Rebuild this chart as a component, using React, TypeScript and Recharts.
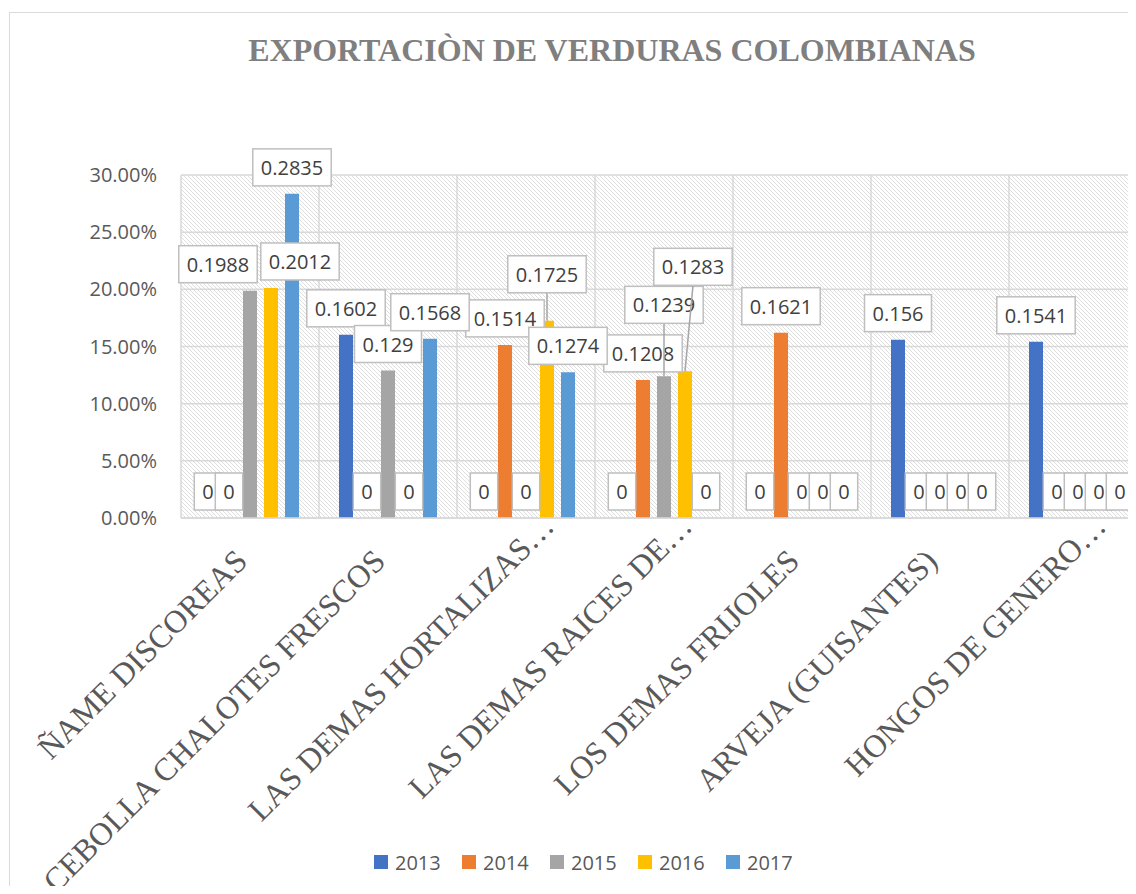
import React from 'react';
import { BarChart, Bar, XAxis, YAxis, CartesianGrid, Legend, LabelList } from 'recharts';

const categories = [
  'ÑAME DISCOREAS',
  'CEBOLLA CHALOTES FRESCOS',
  'LAS DEMAS HORTALIZAS…',
  'LAS DEMAS RAICES DE…',
  'LOS DEMAS FRIJOLES',
  'ARVEJA (GUISANTES)',
  'HONGOS DE GENERO…',
];

const years = ['2013', '2014', '2015', '2016', '2017'];

const values2013 = [0, 0.1602, 0, 0, 0, 0.156, 0.1541];
const values2014 = [0, 0, 0.1514, 0.1208, 0.1621, 0, 0];
const values2015 = [0.1988, 0.129, 0, 0.1239, 0, 0, 0];
const values2016 = [0.2012, 0, 0.1725, 0.1283, 0, 0, 0];
const values2017 = [0.2835, 0.1568, 0.1274, 0, 0, 0, 0];

const yTicks = [0, 0.05, 0.1, 0.15, 0.2, 0.25, 0.3];

const colors = ['#4472C4', '#ED7D31', '#A5A5A5', '#FFC000', '#5B9BD5'];

const seriesValues = [values2013, values2014, values2015, values2016, values2017];

const data = categories.map((name, i) => {
  const row: Record<string, string | number> = { name };
  years.forEach((y, s) => {
    row[y] = seriesValues[s][i];
  });
  return row;
});

// labels that Excel moved away from the default spot (year-categoryIndex)
const labelShift: Record<string, { dx: number; dy: number }> = {
  '2015-0': { dx: -32, dy: 0 },
  '2016-0': { dx: 29, dy: 0 },
  '2016-2': { dx: 0, dy: -20 },
  '2015-3': { dx: 0, dy: -45 },
  '2016-3': { dx: 8, dy: -78 },
};

const LABEL_FONT = '20px "Open Sans"';
let ctx: CanvasRenderingContext2D | null = null;
const measure = (t: string) => {
  if (!ctx) ctx = document.createElement('canvas').getContext('2d');
  if (!ctx) return t.length * 11;
  ctx.font = LABEL_FONT;
  return ctx.measureText(t).width;
};

const makeLabel = (year: string) => (props: any) => {
  const { x, y, width, height, value, index } = props;
  const text = String(value);
  const bw = measure(text) + 16;
  const bh = 37;
  const shift = labelShift[`${year}-${index}`] || { dx: 0, dy: 0 };
  const barCx = Number(x) + Number(width) / 2;
  // zero bars get a 1px min height from minPointSize: use the baseline
  const top = Number(value) === 0 ? Number(y) + Number(height) : Number(y);
  const cx = barCx + shift.dx;
  const bottom = top - 8 + shift.dy;
  return (
    <g>
      {shift.dy !== 0 && (
        <line x1={cx} y1={bottom} x2={barCx} y2={top} stroke="#a6a6a6" strokeWidth={1.5} />
      )}
      <rect x={cx - bw / 2} y={bottom - bh} width={bw} height={bh} fill="#fff" stroke="#bfbfbf" strokeWidth={1.5} />
      <text
        x={cx}
        y={bottom - bh / 2}
        textAnchor="middle"
        dominantBaseline="central"
        fill="#404040"
        style={{ font: LABEL_FONT }}
      >
        {text}
      </text>
    </g>
  );
};

const CategoryTick = (props: any) => {
  const { x, payload } = props;
  const truncated = String(payload.value).endsWith('…');
  const ax = x + (truncated ? 30 : -1);
  const ay = truncated ? 528 : 563;
  return (
    <text
      x={ax}
      y={ay}
      textAnchor="end"
      transform={`rotate(-45, ${ax}, ${ay})`}
      fill="#595959"
      style={{ fontFamily: '"Liberation Serif", serif', fontSize: 32 }}
    >
      {payload.value}
    </text>
  );
};

const LegendContent = () => (
  <div style={{ display: 'flex', alignItems: 'center', height: 24 }}>
    {years.map((y, i) => (
      <div key={y} style={{ display: 'flex', alignItems: 'center', width: 88 }}>
        <span style={{ width: 14, height: 14, background: colors[i], marginRight: 7 }} />
        <span style={{ font: '20px "Open Sans"', color: '#595959' }}>{y}</span>
      </div>
    ))}
  </div>
);

export default function App() {
  return (
    <div
      style={{
        position: 'relative',
        width: 1136,
        height: 894,
        margin: -8,
        overflow: 'hidden',
        background: '#fff',
      }}
    >
      <div
        style={{
          position: 'absolute',
          left: 9,
          top: 12,
          width: 1200,
          height: 1000,
          border: '1.5px solid #d9d9d9',
        }}
      />
      <div
        style={{
          position: 'absolute',
          left: 612,
          top: 34,
          transform: 'translateX(-50%)',
          whiteSpace: 'nowrap',
          font: 'bold 32px/32px "Liberation Serif", serif',
          color: '#7f7f7f',
        }}
      >
        EXPORTACIÒN DE VERDURAS COLOMBIANAS
      </div>
      <div style={{ position: 'absolute', left: 0, top: 0 }}>
        <BarChart
          width={1160}
          height={894}
          data={data}
          margin={{ top: 175, right: 13, left: 0, bottom: 0 }}
          barSize={14}
          barGap={7}
        >
          <defs>
            <pattern id="hatch" width="4" height="4" patternUnits="userSpaceOnUse">
              <rect width="4" height="4" fill="#fff" />
              <path d="M-1,-1 L5,5 M3,-1 L5,1 M-1,3 L1,5" stroke="#dedede" strokeWidth={1} />
            </pattern>
          </defs>
          <CartesianGrid
            fill="url(#hatch)"
            fillOpacity={1}
            stroke="#d9d9d9"
            strokeWidth={1.5}
            verticalCoordinatesGenerator={({ offset }: any) =>
              categories.map((_, i) => offset.left + (i * offset.width) / categories.length).concat(offset.left + offset.width)
            }
          />
          <XAxis
            dataKey="name"
            height={376}
            interval={0}
            tickLine={false}
            axisLine={{ stroke: '#d9d9d9', strokeWidth: 1.5 }}
            tick={<CategoryTick />}
          />
          <XAxis xAxisId="lab" dataKey="name" hide />
          <YAxis
            width={181}
            domain={[0, 0.3]}
            ticks={yTicks}
            axisLine={false}
            tickLine={false}
            tickMargin={18}
            tickFormatter={(v: number) => `${(v * 100).toFixed(2)}%`}
            tick={{ fill: '#595959', fontSize: 20, fontFamily: '"Open Sans", sans-serif' }}
          />
          {years.map((y, i) => (
            <Bar key={y} dataKey={y} fill={colors[i]} isAnimationActive={false} />
          ))}
          {years.map((y) => (
            <Bar
              key={`lab-${y}`}
              xAxisId="lab"
              dataKey={y}
              fill="transparent"
              minPointSize={1}
              legendType="none"
              isAnimationActive={false}
            >
              <LabelList dataKey={y} content={makeLabel(y)} />
            </Bar>
          ))}
          <Legend
            verticalAlign="middle"
            content={<LegendContent />}
            wrapperStyle={{ left: 374, top: 850, width: 500, height: 24 }}
          />
        </BarChart>
      </div>
    </div>
  );
}
